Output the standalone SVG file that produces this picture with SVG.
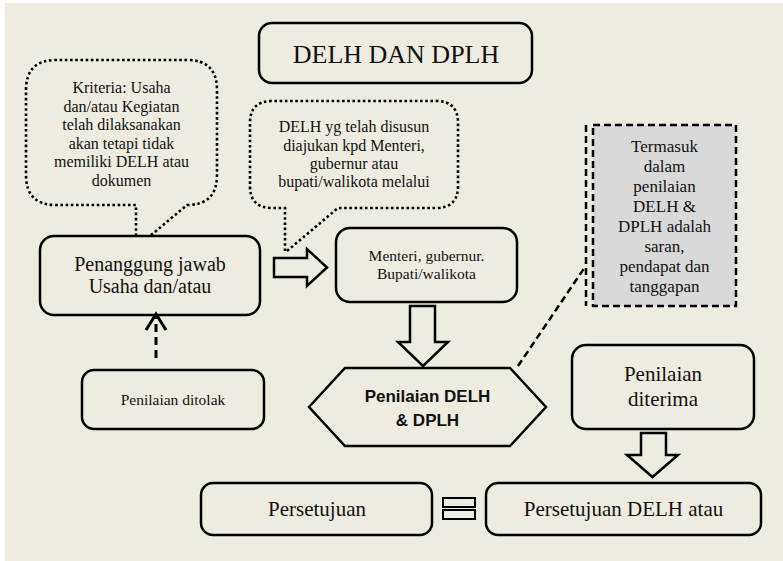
<svg xmlns="http://www.w3.org/2000/svg" width="783" height="561" viewBox="0 0 783 561">
<style>
.box{fill:none;stroke:#000;stroke-width:2.5}
.dot{fill:none;stroke:#000;stroke-width:2.6;stroke-dasharray:2.6 2.6}
.dash{fill:none;stroke:#000;stroke-width:2.5;stroke-dasharray:7 4}
.blk{fill:none;stroke:#000;stroke-width:2.5;stroke-linejoin:miter}
.t{font-family:"Liberation Serif","Times New Roman",serif;fill:#111;text-anchor:middle}
.s{font-family:"Liberation Sans",Arial,sans-serif;font-weight:bold;fill:#111;text-anchor:middle}
</style>
<rect x="0" y="0" width="783" height="561" fill="#fff"/>
<rect x="5" y="3" width="778" height="558" fill="#EEECE1"/>

<g id="title">
<rect class="box" x="259" y="23" width="273" height="60" rx="13"/>
<text class="t" x="396" y="63" font-size="26">DELH DAN DPLH</text>
</g>

<g id="kriteria">
<path class="dot" d="M136,236 V205 H56 Q26,205 26,175 V90 Q26,60 56,60 H187 Q217,60 217,90 V175 Q217,205 187,205 L150,236"/>
<text class="t" font-size="16"><tspan x="121.5" y="93">Kriteria: Usaha</tspan><tspan x="121.5" y="111.5">dan/atau Kegiatan</tspan><tspan x="121.5" y="130">telah dilaksanakan</tspan><tspan x="121.5" y="148.5">akan tetapi tidak</tspan><tspan x="121.5" y="167">memiliki DELH atau</tspan><tspan x="121.5" y="185.5">dokumen</tspan></text>
</g>

<g id="delh-callout">
<path class="dot" d="M285,251 V208 H272 Q250,208 250,186 V123 Q250,101 272,101 H436 Q458,101 458,123 V186 Q458,208 436,208 H338 L287,251"/>
<text class="t" font-size="16"><tspan x="354" y="132">DELH yg telah disusun</tspan><tspan x="354" y="151">diajukan kpd Menteri,</tspan><tspan x="354" y="169">gubernur atau</tspan><tspan x="354" y="187">bupati/walikota melalui</tspan></text>
</g>

<g id="penanggung">
<rect class="box" x="40" y="236" width="220" height="79" rx="14"/>
<text class="t" font-size="20"><tspan x="150" y="271">Penanggung jawab</tspan><tspan x="150" y="293">Usaha dan/atau</tspan></text>
</g>

<g id="menteri">
<rect class="box" x="336" y="228" width="181" height="74" rx="14"/>
<text class="t" font-size="15.5"><tspan x="426.5" y="261">Menteri, gubernur.</tspan><tspan x="426.5" y="279">Bupati/walikota</tspan></text>
</g>

<g id="termasuk">
<rect x="593" y="125" width="143" height="181" fill="#D9D9D9" stroke="#000" stroke-width="2.5" stroke-dasharray="7 4"/>
<line class="dash" x1="586" y1="125" x2="586" y2="306"/>
<text class="t" font-size="17"><tspan x="664.5" y="151.5">Termasuk</tspan><tspan x="664.5" y="171.5">dalam</tspan><tspan x="664.5" y="191.5">penilaian</tspan><tspan x="664.5" y="211.5">DELH &amp;</tspan><tspan x="664.5" y="231.5">DPLH adalah</tspan><tspan x="664.5" y="251.5">saran,</tspan><tspan x="664.5" y="271.5">pendapat dan</tspan><tspan x="664.5" y="291.5">tanggapan</tspan></text>
</g>

<g id="penilaian">
<polygon class="box" points="309,407 345,368 510,368 546,407 510,446 345,446"/>
<text class="s" font-size="17"><tspan x="427.5" y="402">Penilaian DELH</tspan><tspan x="427.5" y="426">&amp; DPLH</tspan></text>
</g>

<g id="ditolak">
<rect class="box" x="82" y="370" width="182" height="59" rx="12"/>
<text class="t" x="173" y="405" font-size="15.5">Penilaian ditolak</text>
</g>

<g id="diterima">
<rect class="box" x="572" y="345" width="182" height="84" rx="14"/>
<text class="t" font-size="21"><tspan x="663" y="381">Penilaian</tspan><tspan x="663" y="406">diterima</tspan></text>
</g>

<g id="persetujuan">
<rect class="box" x="201" y="483" width="231" height="52" rx="12"/>
<text class="t" x="317" y="516" font-size="21">Persetujuan</text>
</g>

<g id="persetujuan-delh">
<rect class="box" x="486" y="483" width="275" height="52" rx="12"/>
<text class="t" x="623.5" y="516" font-size="21">Persetujuan DELH atau</text>
</g>

<g id="connectors">
<polygon class="blk" points="274,258 307,258 307,249 327,267.5 307,286 307,277 274,277"/>
<polygon class="blk" points="410,306 435,306 435,342 448,342 423,366 398,342 410,342"/>
<polygon class="blk" points="641,433 666,433 666,455 678,455 652.5,477 627,455 641,455"/>
<line class="dash" x1="518" y1="366" x2="585" y2="267"/>
<line x1="156" y1="358" x2="156" y2="316" stroke="#000" stroke-width="3" stroke-dasharray="8 5"/>
<polyline points="146,330 156,314 166,330" fill="none" stroke="#000" stroke-width="3"/>
<rect x="443" y="498" width="32" height="9" fill="none" stroke="#000" stroke-width="2"/>
<rect x="443" y="510" width="32" height="9" fill="none" stroke="#000" stroke-width="2"/>
</g>
</svg>
